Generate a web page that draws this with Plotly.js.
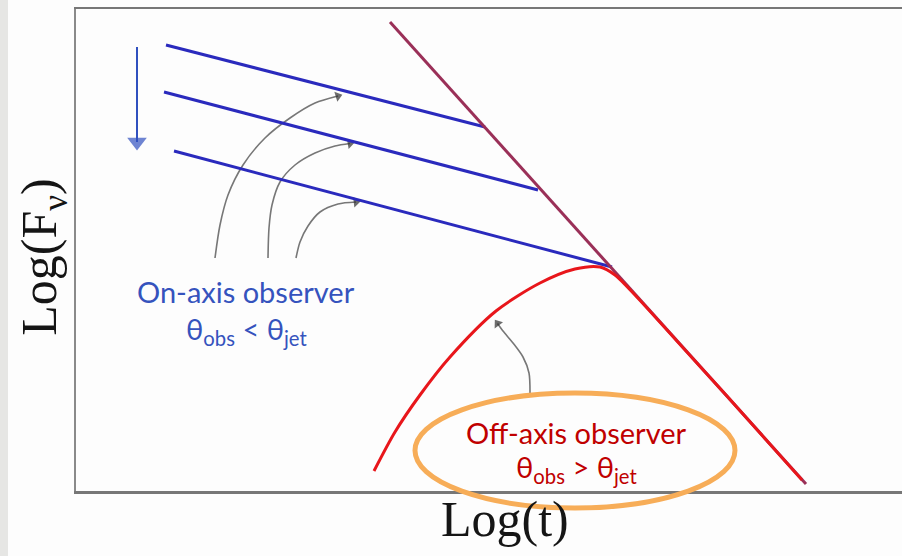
<!DOCTYPE html>
<html>
<head>
<meta charset="utf-8">
<script src="https://cdn.plot.ly/plotly-3.0.1.min.js"></script>
<style>
  html, body { margin: 0; padding: 0; background: #fdfdfd; }
  #chart { width: 902px; height: 556px; }
</style>
</head>
<body>
<div id="chart"></div>
<script>
// Schematic afterglow light curves in log–log units (Log t, Log F_nu).

// Post-jet-break decay shared by every observer
const decayX = [3.14, 7.30];
const decayY = [4.69, 0.07];

// On-axis observers: shallow decay until the jet break
const onAxis1X = [0.90, 4.09];
const onAxis1Y = [4.46, 3.64];
const onAxis2X = [0.88, 4.62];
const onAxis2Y = [3.99, 3.01];
const onAxis3X = [0.98, 5.36];
const onAxis3Y = [3.40, 2.24];

// Off-axis observer: rising curve, peak, then joins the common decay
const offAxisX = [2.98, 3.19, 3.44, 3.74, 4.20, 4.64, 4.99, 5.24, 5.39, 5.59, 6.00, 6.50, 7.26];
const offAxisY = [0.20, 0.59, 0.96, 1.34, 1.80, 2.08, 2.22, 2.24, 2.16, 1.96, 1.51, 0.96, 0.11];

// Curved pointers from the labels to the curves
const pointer1X = [1.39, 1.44, 1.52, 1.67, 1.89, 2.14, 2.39, 2.62];
const pointer1Y = [2.33, 2.66, 2.96, 3.26, 3.53, 3.73, 3.88, 3.95];
const pointer2X = [1.92, 1.93, 1.96, 2.04, 2.19, 2.39, 2.59, 2.74];
const pointer2Y = [2.33, 2.63, 2.86, 3.09, 3.26, 3.38, 3.45, 3.475];
const pointer3X = [2.20, 2.24, 2.32, 2.44, 2.62, 2.80];
const pointer3Y = [2.33, 2.49, 2.65, 2.79, 2.87, 2.89];
const pointer4X = [4.54, 4.53, 4.47, 4.37, 4.27, 4.215];
const pointer4Y = [0.97, 1.18, 1.34, 1.48, 1.60, 1.675];

// Downward arrow: increasing viewing angle
const angleArrowX = [0.61, 0.61, 0.61];
const angleArrowY = [4.44, 3.60, 3.49];

// Label text
const onAxisLabel = ['On-axis observer', 'θ<sub>obs</sub> &lt; θ<sub>jet</sub>'];
const offAxisLabel = ['Off-axis observer', 'θ<sub>obs</sub> &gt; θ<sub>jet</sub>'];
const xTitle = 'Log(t)';
const yTitle = 'Log(F<sub>ν</sub>)';

const BLUE = '#2a2abd';
const MAROON = '#9a3058';
const RED = '#e8161b';
const GREY = '#777777';
const SERIF = '"Liberation Serif", "DejaVu Serif", serif';

function lineTrace(x, y, color, width, shape) {
  return {
    x: x, y: y, type: 'scatter', mode: 'lines', hoverinfo: 'skip',
    line: { color: color, width: width, shape: shape || 'linear', smoothing: 0.8 }
  };
}

// a line that ends in a triangular head turned along its last segment
function arrowTrace(x, y, lineColor, headColor, width, headSize, shape) {
  const sizes = x.map((_, i) => (i === x.length - 1 ? headSize : 0));
  return {
    x: x, y: y, type: 'scatter', mode: 'lines+markers', hoverinfo: 'skip',
    line: { color: lineColor, width: width, shape: shape || 'linear', smoothing: 0.8 },
    marker: { symbol: 'triangle-up', angleref: 'previous', size: sizes, color: headColor,
              line: { width: 0 } }
  };
}

const traces = [
  arrowTrace(pointer1X, pointer1Y, GREY, '#2e2e2e', 1.6, 9, 'spline'),
  arrowTrace(pointer2X, pointer2Y, GREY, '#2e2e2e', 1.6, 9, 'spline'),
  arrowTrace(pointer3X, pointer3Y, GREY, '#2e2e2e', 1.6, 9, 'spline'),
  arrowTrace(pointer4X, pointer4Y, GREY, '#2e2e2e', 1.6, 9, 'spline'),
  arrowTrace(angleArrowX, angleArrowY, '#3050bf', '#3050bf', 2, 17),
  lineTrace(onAxis1X, onAxis1Y, BLUE, 3),
  lineTrace(onAxis2X, onAxis2Y, BLUE, 3),
  lineTrace(onAxis3X, onAxis3Y, BLUE, 3),
  lineTrace(decayX, decayY, MAROON, 3),
  lineTrace(offAxisX, offAxisY, RED, 3, 'spline')
];

function label(text, x, y, color) {
  return {
    text: text, x: x, y: y, xref: 'x', yref: 'y', showarrow: false,
    xanchor: 'center', yanchor: 'middle',
    font: { family: 'Lato, "Open Sans", sans-serif', size: 29, color: color }
  };
}

const annotations = [
  label(onAxisLabel[0], 1.70, 2.00, '#3553bd'),
  label(onAxisLabel[1], 1.70, 1.61, '#3553bd'),
  label(offAxisLabel[0], 5.00, 0.59, '#c00000'),
  label(offAxisLabel[1], 5.00, 0.23, '#c00000'),
  // axis titles
  { text: xTitle, xref: 'paper', yref: 'paper', x: 0.519, y: -0.058,
    xanchor: 'center', yanchor: 'middle', showarrow: false,
    font: { family: SERIF, size: 50, color: '#151515' } },
  { text: yTitle, xref: 'paper', yref: 'paper', x: -0.04, y: 0.486,
    xanchor: 'center', yanchor: 'middle', showarrow: false, textangle: -90,
    font: { family: SERIF, size: 50, color: '#151515' } }
];

const layout = {
  width: 902, height: 556,
  margin: { l: 76, r: 0, t: 9, b: 65 },
  paper_bgcolor: '#fdfdfd', plot_bgcolor: '#fdfdfd',
  showlegend: false,
  xaxis: {
    range: [0, 8.26], showgrid: false, zeroline: false, showticklabels: false, ticks: '',
    showline: true, mirror: true, linecolor: '#777777', linewidth: 2.5,
    fixedrange: true
  },
  yaxis: {
    range: [0, 4.82], showgrid: false, zeroline: false, showticklabels: false, ticks: '',
    showline: true, mirror: false, linecolor: '#8a8a8a', linewidth: 2.5,
    fixedrange: true
  },
  shapes: [
    // grey strip along the left edge of the slide
    { type: 'rect', xref: 'paper', yref: 'paper', layer: 'below',
      x0: -0.092, x1: -0.0823, y0: -0.135, y1: 1.02,
      fillcolor: '#e6e6e4', line: { width: 0 } },
    // highlight round the off-axis label
    { type: 'circle', xref: 'paper', yref: 'paper', layer: 'above',
      x0: 0.4104, x1: 0.7978, y0: -0.0353, y1: 0.2033,
      line: { color: '#f7ad58', width: 5 } }
  ],
  annotations: annotations
};

Plotly.newPlot('chart', traces, layout, { staticPlot: true, displayModeBar: false });
</script>
</body>
</html>
